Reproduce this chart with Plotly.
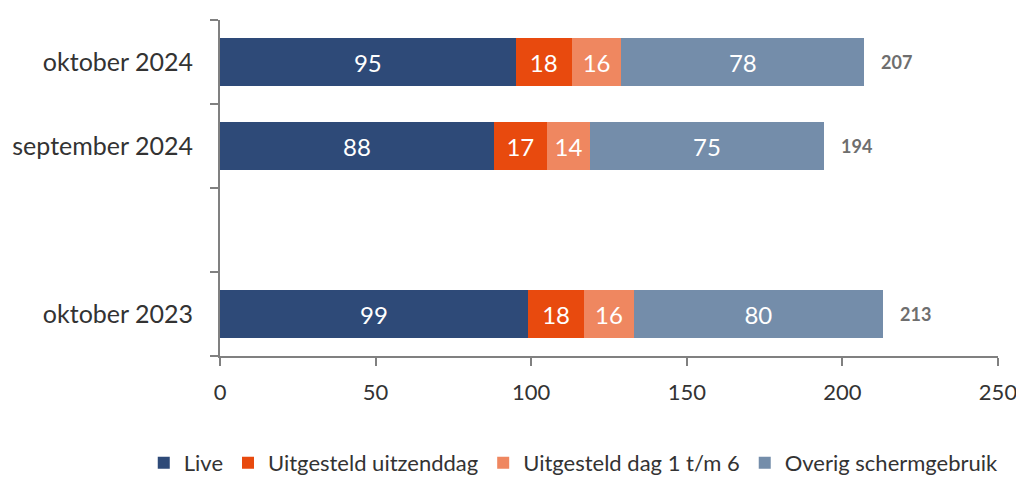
import plotly.graph_objects as go

# Data
maanden = ['oktober 2024', 'september 2024', 'oktober 2023']
live = [95, 88, 99]
uitzenddag = [18, 17, 18]
dag_1_6 = [16, 14, 16]
overig = [78, 75, 80]
totaal = [207, 194, 213]

series = [
    ('Live', live, '#2E4A78'),
    ('Uitgesteld uitzenddag', uitzenddag, '#E84A0E'),
    ('Uitgesteld dag 1 t/m 6', dag_1_6, '#EF8760'),
    ('Overig schermgebruik', overig, '#748DAA'),
]

font = 'Lato'

fig = go.Figure()
for naam, waarden, kleur in series:
    fig.add_trace(go.Bar(
        y=maanden, x=waarden, name=naam, orientation='h',
        marker=dict(color=kleur, line=dict(width=0)),
        text=waarden, textposition='inside', insidetextanchor='middle',
        textfont=dict(color='white', size=24, family=font),
        width=0.57,
    ))

# totals right of the bars
for m, t in zip(maanden, totaal):
    fig.add_annotation(x=t, y=m, text='<b>%d</b>' % t, showarrow=False,
                       xanchor='left', xshift=15,
                       font=dict(size=18, color='#6E6E6E', family=font))

# page has an 8px body margin, so the figure is a bit smaller than the window
fig.update_layout(
    barmode='stack',
    width=1016, height=479,
    margin=dict(l=212, r=26, t=12, b=131, autoexpand=False),
    plot_bgcolor='white', paper_bgcolor='white',
    font=dict(family=font, color='#333333'),
    showlegend=True,
    # left of the plot area and below it, so the legend may use the full width
    legend=dict(orientation='h', x=-0.098, xanchor='left', y=-0.318, yanchor='middle',
                font=dict(size=22, color='#333333'), traceorder='normal',
                itemwidth=30, tracegroupgap=0),
    uniformtext=dict(minsize=10, mode='show'),
)
fig.update_xaxes(range=[0, 250], dtick=50, showgrid=False, zeroline=False,
                 showline=True, linecolor='#808080', linewidth=2,
                 ticks='outside', ticklen=8, tickcolor='#808080', tickwidth=2,
                 tickfont=dict(size=22, color='#333333'), ticklabelstandoff=8,
                 automargin=False)
fig.update_yaxes(type='category',
                 categoryorder='array',
                 categoryarray=['oktober 2023', ' ', 'september 2024', 'oktober 2024'],
                 tickson='boundaries', showgrid=False,
                 showline=True, linecolor='#808080', linewidth=2,
                 ticks='outside', ticklen=8, tickcolor='#808080', tickwidth=2,
                 tickfont=dict(size=25, color='#333333'), ticklabelstandoff=20,
                 automargin=False)

fig.write_html('out.html')
